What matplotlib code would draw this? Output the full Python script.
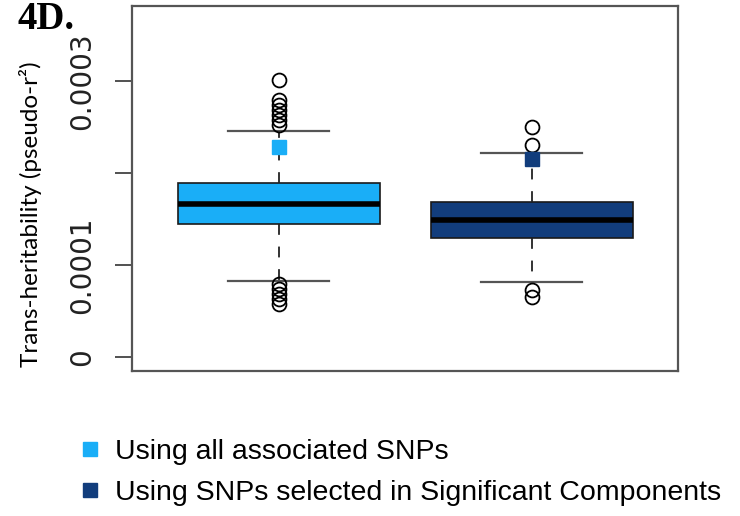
import matplotlib
matplotlib.use("Agg")
import matplotlib.pyplot as plt
from matplotlib.lines import Line2D

# values (units of pseudo-r2)
groups = ["Using all associated SNPs", "Using SNPs selected in Significant Components"]
colors = ["#1AAEF7", "#123D7C"]
q1 = [1.444e-4, 1.295e-4]
medians = [1.662e-4, 1.487e-4]
q3 = [1.887e-4, 1.680e-4]
whislo = [0.824e-4, 0.816e-4]
whishi = [2.459e-4, 2.220e-4]
means = [2.285e-4, 2.151e-4]
fliers_all = [3.011e-4, 2.793e-4, 2.738e-4, 2.684e-4, 2.629e-4, 2.575e-4, 2.520e-4,
              0.791e-4, 0.737e-4, 0.682e-4, 0.628e-4, 0.573e-4]
fliers_sig = [2.496e-4, 2.304e-4, 0.726e-4, 0.653e-4]
yticks = [0, 1e-4, 2e-4, 3e-4]
ytick_labels = ["0", "0.0001", "", "0.0003"]

fig = plt.figure(figsize=(7.4, 5.16), dpi=100)
ax = fig.add_axes([132/740, 1-371/516, (678-132)/740, (371-6)/516])

stats = []
for i, fl in enumerate([fliers_all, fliers_sig]):
    stats.append(dict(label=groups[i], q1=q1[i], med=medians[i], q3=q3[i],
                      whislo=whislo[i], whishi=whishi[i], fliers=fl))

bp = ax.bxp(stats, positions=[1, 2], widths=0.8, capwidths=0.4, patch_artist=True,
            boxprops=dict(edgecolor="#1a1a1a", linewidth=1.2),
            medianprops=dict(color="black", linewidth=4),
            whiskerprops=dict(color="#222222", linewidth=1.3, linestyle=(0, (6, 6.5))),
            capprops=dict(color="#555555", linewidth=1.6),
            flierprops=dict(marker="o", markerfacecolor="none", markeredgecolor="black",
                            markersize=10, markeredgewidth=1.3))
for patch, c in zip(bp["boxes"], colors):
    patch.set_facecolor(c)

for i in range(2):
    ax.plot(i + 1, means[i], marker="s", color=colors[i], markersize=9.5, zorder=5)

ax.set_xlim(0.42, 2.578)
ax.set_ylim(-0.156e-4, 3.816e-4)
ax.set_xticks([])
ax.set_yticks(yticks)
ax.set_yticklabels(ytick_labels, rotation=90, va="center", fontsize=20,
                   family="DejaVu Sans", color="#222222")
ax.tick_params(axis="y", length=12, width=1.2, pad=14, color="#333333")
for s in ax.spines.values():
    s.set_color("#555555")
    s.set_linewidth(1.6)

fig.text(31/740, 1-214/516, "Trans-heritability (pseudo-r²)", rotation=90,
         ha="center", va="center", fontsize=17.5, family=["Lato", "DejaVu Sans"])
fig.text(17/740, 1-29/516, "4D.", fontsize=28, fontweight="bold",
         family="Liberation Serif", ha="left", va="baseline")

handles = [Line2D([], [], linestyle="none", marker="s", markersize=9.5, color=c) for c in colors]
fig.legend(handles, groups, loc="upper left", bbox_to_anchor=(81.5/740, 1-439/516),
           frameon=False, handlelength=0.6, handletextpad=0.58,
           borderpad=0, borderaxespad=0, labelspacing=0.52,
           prop=dict(family="Liberation Sans", size=20.5))

fig.savefig("out.png", dpi=100)
